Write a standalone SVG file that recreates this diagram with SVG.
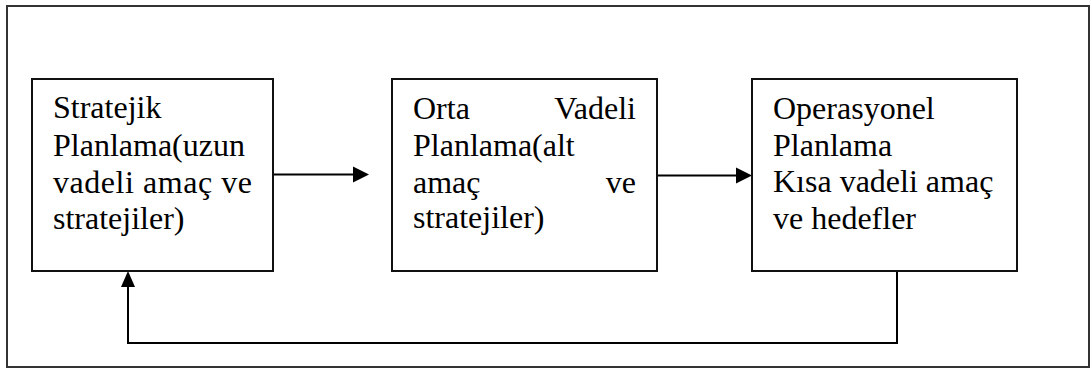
<svg xmlns="http://www.w3.org/2000/svg" width="1092" height="368" viewBox="0 0 1092 368">
  <style>
    .frame { fill: none; stroke: #333; stroke-width: 2; }
    .box { fill: #fff; stroke: #111; stroke-width: 2; }
    .wire { fill: none; stroke: #000; stroke-width: 2; }
    .head { fill: #000; }
    .label { font-family: 'Liberation Serif', 'DejaVu Serif', serif; font-size: 32px; fill: #000; }
  </style>
  <rect width="1092" height="368" fill="#fff"/>
  <!-- outer frame -->
  <rect class="frame" x="7" y="6" width="1082" height="361"/>

  <g id="connectors">
    <line class="wire" x1="273" y1="174.5" x2="355" y2="174.5"/>
    <polygon class="head" points="369,174.5 353,166.5 353,182.5"/>
    <line class="wire" x1="657" y1="175.5" x2="738" y2="175.5"/>
    <polygon class="head" points="752,175.5 736,167.5 736,183.5"/>
    <polyline class="wire" points="897,271 897,343 128,343 128,286"/>
    <polygon class="head" points="128,271 121,287 135,287"/>
  </g>

  <g id="strategic" class="label" font-family="Liberation Serif, serif">
    <rect class="box" x="32" y="79" width="241" height="192"/>
    <text x="53" y="118">Stratejik</text>
    <text x="53" y="156">Planlama(uzun</text>
    <text x="53" y="193" textLength="199" lengthAdjust="spacing">vadeli amaç ve</text>
    <text x="53" y="229">stratejiler)</text>
  </g>

  <g id="tactical" class="label" font-family="Liberation Serif, serif">
    <rect class="box" x="392" y="79" width="265" height="192"/>
    <text x="413" y="119">Orta</text>
    <text x="636" y="119" text-anchor="end">Vadeli</text>
    <text x="413" y="156">Planlama(alt</text>
    <text x="413" y="193">amaç</text>
    <text x="636" y="193" text-anchor="end">ve</text>
    <text x="413" y="228">stratejiler)</text>
  </g>

  <g id="operational" class="label" font-family="Liberation Serif, serif">
    <rect class="box" x="752" y="79" width="265" height="192"/>
    <text x="773" y="119">Operasyonel</text>
    <text x="773" y="156">Planlama</text>
    <text x="773" y="192">Kısa vadeli amaç</text>
    <text x="773" y="229">ve hedefler</text>
  </g>
</svg>
